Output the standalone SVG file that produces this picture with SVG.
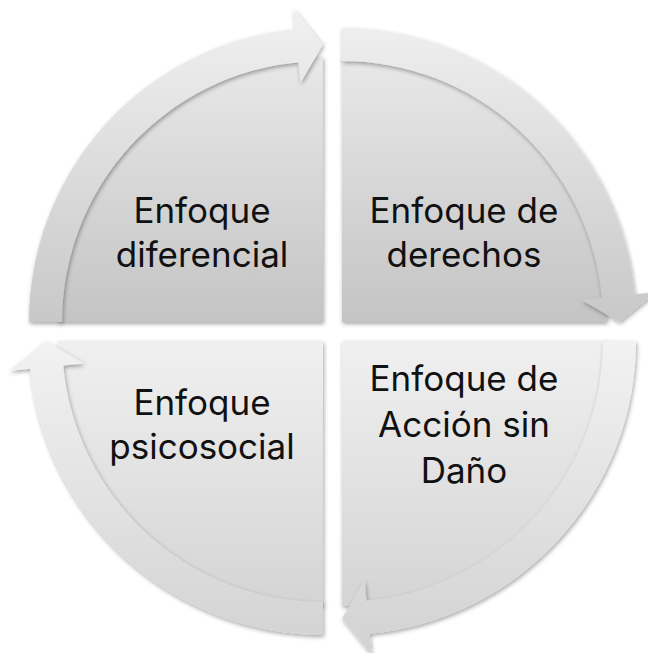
<svg xmlns="http://www.w3.org/2000/svg" width="648" height="653" viewBox="0 0 648 653">
  <defs>
    <linearGradient id="gTop" gradientUnits="userSpaceOnUse" x1="0" y1="8" x2="0" y2="322">
      <stop offset="0" stop-color="#efefef"/>
      <stop offset="1" stop-color="#c4c4c4"/>
    </linearGradient>
    <linearGradient id="gBot" gradientUnits="userSpaceOnUse" x1="0" y1="341" x2="0" y2="655">
      <stop offset="0" stop-color="#f0f0f0"/>
      <stop offset="1" stop-color="#cfcfcf"/>
    </linearGradient>
    <linearGradient id="gTopBand" gradientUnits="userSpaceOnUse" x1="0" y1="8" x2="0" y2="322">
      <stop offset="0" stop-color="#f1f1f1"/>
      <stop offset="1" stop-color="#c8c8c8"/>
    </linearGradient>
    <linearGradient id="gBotBand" gradientUnits="userSpaceOnUse" x1="0" y1="341" x2="0" y2="655">
      <stop offset="0" stop-color="#f2f2f2"/>
      <stop offset="1" stop-color="#d2d2d2"/>
    </linearGradient>
    <filter id="shadow" x="-10%" y="-10%" width="120%" height="120%">
      <feDropShadow dx="1" dy="2" stdDeviation="2" flood-color="#000" flood-opacity="0.35"/>
    </filter>
  </defs>
  <style>
    .pie { filter: url(#shadow); }
    .band { filter: url(#shadow); }
    .lbl { font-family: Inter, "Open Sans", "Liberation Sans", sans-serif; font-size: 35px; fill: #111; text-anchor: middle; }
  </style>
  <rect width="648" height="653" fill="#ffffff"/>

  <g id="node-diferencial">
    <path class="pie" fill="url(#gTop)" d="M 323 322 L 58 322 A 265 265 0 0 1 323 57 Z"/>
    <text class="lbl" x="202" y="223">Enfoque</text>
    <text class="lbl" x="202" y="267">diferencial</text>
  </g>

  <g id="node-derechos">
    <path class="pie" fill="url(#gTop)" d="M 342 322 L 342 57 A 265 265 0 0 1 607 322 Z"/>
    <text class="lbl" x="464" y="223">Enfoque de</text>
    <text class="lbl" x="464" y="267">derechos</text>
  </g>

  <g id="node-accion-sin-dano">
    <path class="pie" fill="url(#gBot)" d="M 342 341 L 607 341 A 265 265 0 0 1 342 606 Z"/>
    <text class="lbl" x="464" y="391">Enfoque de</text>
    <text class="lbl" x="464" y="437">Acción sin</text>
    <text class="lbl" x="464" y="483">Daño</text>
  </g>

  <g id="node-psicosocial">
    <path class="pie" fill="url(#gBot)" d="M 323 341 L 323 606 A 265 265 0 0 1 58 341 Z"/>
    <text class="lbl" x="202" y="415">Enfoque</text>
    <text class="lbl" x="202" y="459">psicosocial</text>
  </g>

  <g id="connectors">
    <path class="band" fill="url(#gTopBand)" d="M 29 322 A 294 294 0 0 1 295.33 29.31 L 293.36 8.4 L 323 44.5 L 300.41 83.07 L 298.44 62.16 A 261 261 0 0 0 62 322 Z"/>
    <path class="band" fill="url(#gTopBand)" d="M 342 28 A 294 294 0 0 1 634.69 294.33 L 655.6 292.36 L 619.5 322 L 580.93 299.41 L 601.84 297.44 A 261 261 0 0 0 342 61 Z"/>
    <path class="band" fill="url(#gBotBand)" d="M 636 341 A 294 294 0 0 1 369.67 633.69 L 371.64 654.6 L 342 618.5 L 364.59 579.93 L 366.56 600.84 A 261 261 0 0 0 603 341 Z"/>
    <path class="band" fill="url(#gBotBand)" d="M 323 635 A 294 294 0 0 1 30.31 368.67 L 9.4 370.64 L 45.5 341 L 84.07 363.59 L 63.16 365.56 A 261 261 0 0 0 323 602 Z"/>
  </g>
</svg>
